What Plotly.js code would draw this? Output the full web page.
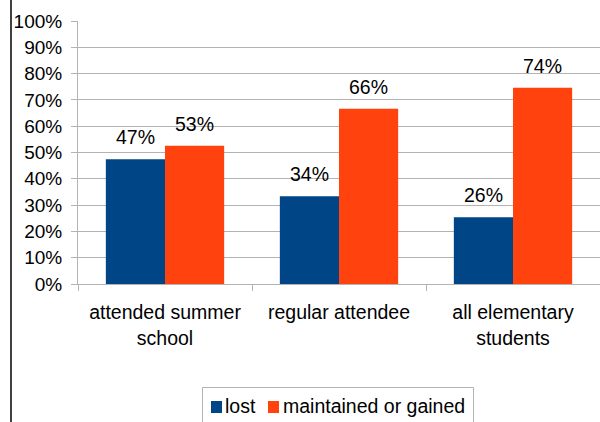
<!DOCTYPE html>
<html><head><meta charset="utf-8">
<script src="https://cdn.plot.ly/plotly-3.0.1.min.js"></script>
<style>body{margin:0;background:#fff}#c{width:600px;height:422px}</style>
</head><body><div id="c"></div>
<script>
const categories = ["attended summer<br>school", "regular attendee", "all elementary<br>students"];
const seriesNames = ["lost", "maintained or gained"];
const seriesColors = ["#004586", "#ff420e"];
const lostValues = [47.4, 33.4, 25.4];
const lostLabels = ["47%", "34%", "26%"];
const gainedValues = [52.6, 66.6, 74.6];
const gainedLabels = ["53%", "66%", "74%"];
const yTickVals = [0,10,20,30,40,50,60,70,80,90,100];
const yTickText = yTickVals.map(v => v + "%");

const FS = 19.5;
const font = {family: "Liberation Sans, Arial, sans-serif", size: FS, color: "#000"};
const traces = [
  {type: "bar", name: seriesNames[0], x: categories, y: lostValues,
   marker: {color: seriesColors[0]}, hoverinfo: "none"},
  {type: "bar", name: seriesNames[1], x: categories, y: gainedValues,
   marker: {color: seriesColors[1]}, hoverinfo: "none"}
];

const annotations = [];
[[lostValues, lostLabels, -29.6], [gainedValues, gainedLabels, 29.6]].forEach(([vals, labs, dx]) => {
  vals.forEach((v, i) => annotations.push({
    x: categories[i], y: v, xref: "x", yref: "y", text: labs[i], showarrow: false,
    xshift: dx, yshift: 9, yanchor: "bottom", xanchor: "center", font: font
  }));
});
// manual legend (pixel-positioned in paper coords)
const px = p => (p - 78) / 522, py = p => (284 - p) / 263;
annotations.push({xref: "paper", yref: "paper", x: px(223), y: py(405.5), xanchor: "left", yanchor: "middle",
  text: seriesNames[0], showarrow: false, font: font});
annotations.push({xref: "paper", yref: "paper", x: px(281), y: py(405.5), xanchor: "left", yanchor: "middle",
  text: seriesNames[1], showarrow: false, font: font});

const layout = {
  width: 600, height: 422,
  margin: {l: 78, r: 0, t: 21, b: 138},
  paper_bgcolor: "#fff", plot_bgcolor: "#fff",
  font: font,
  barmode: "group", bargap: 0.32, bargroupgap: 0,
  showlegend: false,
  xaxis: {type: "category", showgrid: false, showline: true, linecolor: "#b3b3b3",
          ticks: "outside", tickson: "boundaries", ticklen: 6, tickcolor: "#b3b3b3",
          tickfont: font, automargin: false, ticklabelstandoff: 11},
  yaxis: {range: [0, 100], tickvals: yTickVals, ticktext: yTickText,
          showgrid: true, gridcolor: "#b3b3b3", showline: true, linecolor: "#b3b3b3",
          ticks: "outside", ticklen: 6, tickcolor: "#b3b3b3", tickfont: {...font, size: 19},
          zeroline: false, automargin: false, ticklabelstandoff: 5},
  annotations: annotations,
  shapes: [
    {type: "line", xref: "paper", yref: "paper", x0: px(11), x1: px(11), y0: -2, y1: 2,
     line: {color: "#000", width: 1.5}},
    {type: "rect", xref: "paper", yref: "paper", x0: px(202.5), x1: px(473.5), y0: py(387.5), y1: py(440),
     line: {color: "#b3b3b3", width: 1}, fillcolor: "rgba(0,0,0,0)"},
    {type: "rect", xref: "paper", yref: "paper", x0: px(211), x1: px(222), y0: py(413), y1: py(401),
     line: {width: 0}, fillcolor: seriesColors[0]},
    {type: "rect", xref: "paper", yref: "paper", x0: px(268), x1: px(279), y0: py(413), y1: py(401),
     line: {width: 0}, fillcolor: seriesColors[1]}
  ]
};
Plotly.newPlot("c", traces, layout, {staticPlot: true});
</script></body></html>
